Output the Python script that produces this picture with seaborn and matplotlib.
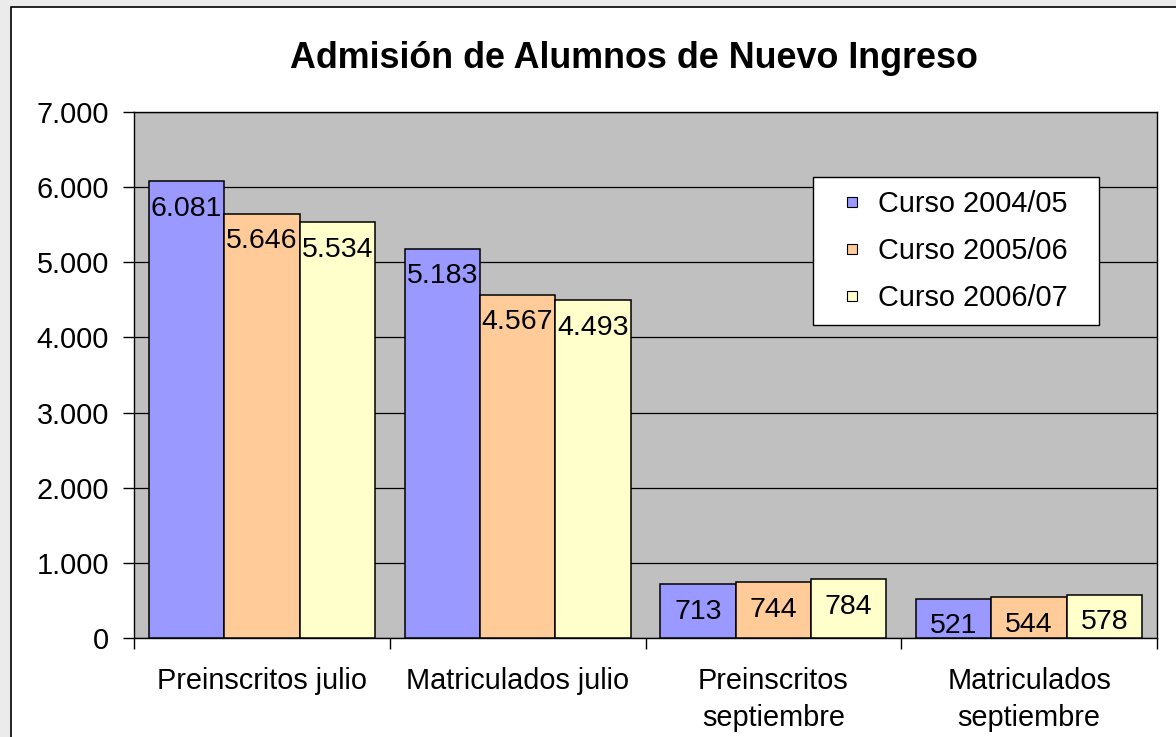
import pandas as pd
import matplotlib
matplotlib.use('Agg')
import matplotlib.pyplot as plt
from matplotlib.patches import Rectangle
from matplotlib.lines import Line2D
import seaborn as sns

# -------------------------------------------------------------
# data
categorias = ['Preinscritos julio', 'Matriculados julio',
              'Preinscritos\nseptiembre', 'Matriculados\nseptiembre']
cursos = ['Curso 2004/05', 'Curso 2005/06', 'Curso 2006/07']
curso_0405 = [6081, 5183, 713, 521]
curso_0506 = [5646, 4567, 744, 544]
curso_0607 = [5534, 4493, 784, 578]
y_ticks = [0, 1000, 2000, 3000, 4000, 5000, 6000, 7000]
colores = ['#9999FF', '#FFCC99', '#FFFFCC']

rows = []
for curso, vals in zip(cursos, [curso_0405, curso_0506, curso_0607]):
    for cat, v in zip(categorias, vals):
        rows.append({'categoria': cat, 'curso': curso, 'valor': v})
df = pd.DataFrame(rows)


def miles(v):
    return f'{int(v):,}'.replace(',', '.')


# -------------------------------------------------------------
sns.set_style('white')
plt.rcParams['font.family'] = ['Liberation Sans', 'DejaVu Sans']
plt.rcParams['text.color'] = 'black'
plt.rcParams['xtick.color'] = 'black'
plt.rcParams['ytick.color'] = 'black'

fig = plt.figure(figsize=(11.76, 7.37), dpi=100)
fig.patch.set_facecolor('#EBEBEB')
# white chart area with black frame (cut at right / bottom like the original)
fig.patches.append(Rectangle((11 / 1176, -0.05), 1.2, 0.05 + 1 - 7 / 737,
                             transform=fig.transFigure, facecolor='white',
                             edgecolor='black', linewidth=1.2, zorder=-5))

ax = fig.add_axes([134 / 1176, 1 - 638 / 737, 1023 / 1176, 526 / 737])
ax.set_facecolor('#C0C0C0')

sns.barplot(data=df, x='categoria', y='valor', hue='curso', palette=colores,
            width=0.883, edgecolor='black', linewidth=1.1, ax=ax, legend=True,
            saturation=1, zorder=3)

# value labels inside the bar tops
for cont in ax.containers:
    for bar in cont:
        h = bar.get_height()
        ax.annotate(miles(h), (bar.get_x() + bar.get_width() / 2, h),
                    xytext=(0, -10.5), textcoords='offset points',
                    ha='center', va='top', fontsize=20.5, color='black',
                    zorder=5)

ax.set_ylim(0, 7000)
ax.set_xlim(-0.5, 3.5)
ax.set_yticks(y_ticks)
ax.set_yticklabels([miles(t) for t in y_ticks])
ax.yaxis.grid(True, color='black', linewidth=0.9)
ax.set_axisbelow(True)

# x ticks at category boundaries, labels at centres
ax.set_xticks([-0.5, 0.5, 1.5, 2.5, 3.5])
ax.set_xticklabels([])
ax.set_xticks(range(len(categorias)), minor=True)
ax.set_xticklabels(categorias, minor=True, fontsize=20.8, linespacing=1.4)
ax.tick_params(axis='x', which='major', length=8, width=1, color='black',
               direction='out', bottom=True)
ax.tick_params(axis='x', which='minor', length=0, pad=21)
ax.tick_params(axis='y', length=8, width=1, color='black', direction='out',
               left=True, labelsize=20.8, pad=10)
ax.set_xlabel('')
ax.set_ylabel('')
for s in ax.spines.values():
    s.set_visible(True)
    s.set_color('black')
    s.set_linewidth(1)

handles = [Line2D([], [], marker='s', markersize=7.8, markerfacecolor=c,
                  markeredgecolor='black', markeredgewidth=0.8,
                  linestyle='none') for c in colores]
leg = ax.legend(handles, cursos, loc='upper left', mode='expand',
                bbox_to_anchor=(0.664, 0.599, 0.2796, 0.277), fontsize=20.8,
                frameon=True, fancybox=False, edgecolor='black', framealpha=1,
                handlelength=1.75, handletextpad=0.03,
                labelspacing=0.66, borderpad=0.45, borderaxespad=0)
leg.get_frame().set_linewidth(1)
leg.set_zorder(6)

fig.text(634 / 1176, 1 - 58 / 737, 'Admisión de Alumnos de Nuevo Ingreso',
         ha='center', va='center', fontsize=25.8, fontweight='bold')

fig.savefig('out.png', dpi=100, facecolor=fig.get_facecolor())
